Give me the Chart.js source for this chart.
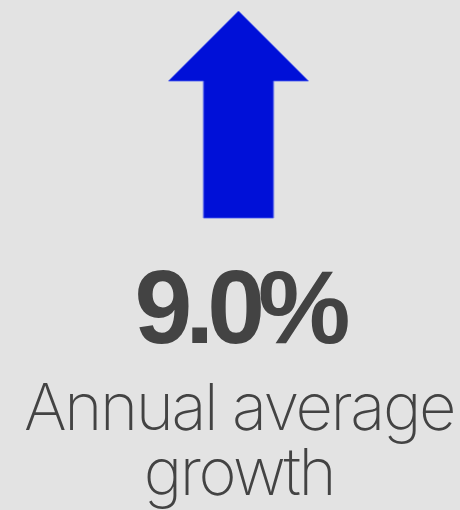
<!DOCTYPE html>
<html>
<head>
<meta charset="utf-8">
<script src="https://cdn.jsdelivr.net/npm/chart.js@4.4.1/dist/chart.umd.min.js"></script>
<style>
    html, body {
        margin: 0;
        padding: 0;
        background: #e3e3e3;
    }
    .stage {
        position: relative;
        width: 460px;
        height: 510px;
        overflow: hidden;
    }
    #arrowChart {
        position: absolute;
        left: 0;
        top: 0;
    }
    .label {
        position: absolute;
        left: 9px;
        width: 460px;
        text-align: center;
        color: #434343;
        white-space: nowrap;
    }
    .value {
        top: 255px;
        font-family: "Liberation Sans", Arial, sans-serif;
        font-weight: bold;
        font-size: 104px;
        line-height: 104px;
        letter-spacing: -7px;
    }
    .caption {
        top: 374px;
        font-family: Inter, "Noto Sans", sans-serif;
        font-weight: 200;
        font-size: 65px;
        line-height: 65px;
        letter-spacing: -2.4px;
    }
</style>
</head>
<body>
<div class="stage">
    <canvas id="arrowChart" width="460" height="510"></canvas>
    <div class="label value" id="valueText"></div>
    <div class="label caption" id="captionText"></div>
</div>
<script>
// Data
const metrics = ['Annual average growth'];
const growth = [9.0];
const captionLines = ['Annual average', 'growth'];

// Arrow glyph used as the point style
function makeArrow() {
    const headW = 140, headH = 70, shaftW = 70, shaftH = 137;
    const c = document.createElement('canvas');
    c.width = headW + 2;
    c.height = headH + shaftH + 2;
    const ctx = c.getContext('2d');
    const mid = c.width / 2;
    ctx.beginPath();
    ctx.moveTo(mid, 1);
    ctx.lineTo(1 + headW, 1 + headH);
    ctx.lineTo(mid + shaftW / 2, 1 + headH);
    ctx.lineTo(mid + shaftW / 2, 1 + headH + shaftH);
    ctx.lineTo(mid - shaftW / 2, 1 + headH + shaftH);
    ctx.lineTo(mid - shaftW / 2, 1 + headH);
    ctx.lineTo(1, 1 + headH);
    ctx.closePath();
    ctx.fillStyle = '#0010d8';
    ctx.fill();
    ctx.strokeStyle = 'rgba(70, 90, 240, 0.8)';
    ctx.lineWidth = 1;
    ctx.stroke();
    return c;
}

document.addEventListener('DOMContentLoaded', function() {
    const ctx = document.getElementById('arrowChart');

    new Chart(ctx, {
        type: 'scatter',
        data: {
            labels: metrics,
            datasets: [{
                label: metrics[0],
                data: growth.map(v => ({ x: 0, y: v })),
                pointStyle: makeArrow(),
                pointRadius: 1,
                pointHoverRadius: 1
            }]
        },
        options: {
            responsive: false,
            animation: false,
            events: [],
            layout: {
                padding: { left: 19, right: 0, top: 0, bottom: 283 }
            },
            scales: {
                x: { display: false, min: -1, max: 1 },
                y: { display: false, min: 0, max: growth[0] * 2 }
            },
            plugins: {
                legend: { display: false },
                tooltip: { enabled: false }
            }
        }
    });

    document.getElementById('valueText').textContent = growth[0].toFixed(1) + '%';
    document.getElementById('captionText').innerHTML = captionLines.join('<br>');
});
</script>
</body>
</html>
